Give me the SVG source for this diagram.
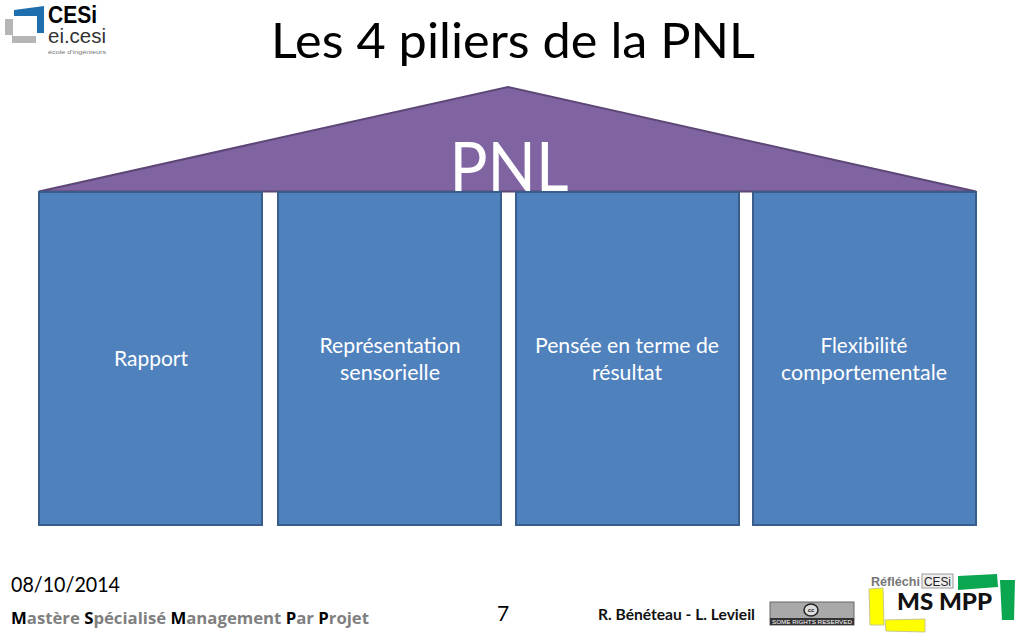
<svg xmlns="http://www.w3.org/2000/svg" width="1024" height="640" viewBox="0 0 1024 640">
<style>
text{font-family:Lato,"Open Sans","Liberation Sans",sans-serif}
.p{fill:#4f81bd;stroke:#385d8a;stroke-width:2}
.l{fill:#fff;font-size:21px;text-anchor:middle}
.f{font-family:"Open Sans","Liberation Sans",sans-serif;font-weight:700;font-size:16px;fill:#7f7f7f}
.b{fill:#000}
.s{font-family:"Liberation Sans",sans-serif}
</style>
<rect width="1024" height="640" fill="#fff"/>
<g id="logo-cesi">
<path d="M14 10L44 6V33L37 33V16L14 16Z" fill="#1f6fae"/>
<path d="M5 19H13V36H36V43H12V35H5Z" fill="#b5b5b5"/>
<text class="s" x="48" y="23" font-size="24" font-weight="700" textLength="49" lengthAdjust="spacingAndGlyphs">CESi</text>
<text class="s" x="48" y="43" font-size="21" fill="#333" textLength="58" lengthAdjust="spacingAndGlyphs">ei.cesi</text>
<text class="s" x="48" y="54" font-size="6" fill="#777" textLength="58" lengthAdjust="spacingAndGlyphs">école d'ingénieurs</text>
</g>
<text id="title" x="513" y="58" font-size="48" text-anchor="middle" fill="#000" textLength="484" lengthAdjust="spacingAndGlyphs">Les 4 piliers de la PNL</text>
<g id="roof">
<path d="M39 191.500L508 87L976 191.500Z" fill="#8064a2" stroke="#5c4776" stroke-width="2"/>
<text x="509" y="191" font-size="68" text-anchor="middle" fill="#fff" textLength="119" lengthAdjust="spacingAndGlyphs">PNL</text>
</g>
<g id="pilier-1"><rect class="p" x="39" y="192" width="223" height="333"/><text class="l" x="151" y="366">Rapport</text></g>
<g id="pilier-2"><rect class="p" x="278" y="192" width="223" height="333"/><text class="l" x="390" y="353" textLength="141" lengthAdjust="spacingAndGlyphs">Représentation</text><text class="l" x="390" y="380" textLength="100" lengthAdjust="spacingAndGlyphs">sensorielle</text></g>
<g id="pilier-3"><rect class="p" x="516" y="192" width="223" height="333"/><text class="l" x="627" y="353" textLength="184" lengthAdjust="spacingAndGlyphs">Pensée en terme de</text><text class="l" x="627" y="380" textLength="70" lengthAdjust="spacingAndGlyphs">résultat</text></g>
<g id="pilier-4"><rect class="p" x="753" y="192" width="223" height="333"/><text class="l" x="864" y="353" textLength="87" lengthAdjust="spacingAndGlyphs">Flexibilité</text><text class="l" x="864" y="380" textLength="166" lengthAdjust="spacingAndGlyphs">comportementale</text></g>
<text id="date" x="11" y="592" font-size="21" fill="#000" textLength="109" lengthAdjust="spacingAndGlyphs">08/10/2014</text>
<text id="master" x="11" y="624" class="f" textLength="358" lengthAdjust="spacingAndGlyphs"><tspan class="b">M</tspan>astère <tspan class="b">S</tspan>pécialisé <tspan class="b">M</tspan>anagement <tspan class="b">P</tspan>ar <tspan class="b">P</tspan>rojet</text>
<text id="page" x="503" y="621" font-size="21" text-anchor="middle" fill="#000">7</text>
<text id="auteurs" x="598" y="620" font-size="15" font-weight="700" fill="#111" textLength="157" lengthAdjust="spacingAndGlyphs">R. Bénéteau - L. Levieil</text>
<g id="cc">
<rect x="770" y="602" width="84" height="23" fill="#a9a9a9" stroke="#666"/>
<rect x="770" y="618" width="84" height="7" fill="#333"/>
<ellipse cx="811" cy="610" rx="7" ry="6" fill="#ddd" stroke="#222" stroke-width="1.5"/>
<text class="s" x="811" y="612" font-size="6" font-weight="700" text-anchor="middle" fill="#222">cc</text>
<text class="s" x="812" y="624" font-size="6" text-anchor="middle" fill="#fff" textLength="80" lengthAdjust="spacingAndGlyphs">SOME RIGHTS RESERVED</text>
</g>
<g id="logo-msmpp">
<path d="M958 576L997 574L998 587L958 590Z" fill="#0aa650"/>
<path d="M1000 580L1015 580L1014 620L1002 620Z" fill="#0aa650"/>
<path d="M869 589L883 588L884 625L870 625Z" fill="#ffff00" stroke="#c8c88c"/>
<path d="M885 620L925 619L925 632L886 631Z" fill="#ffff00" stroke="#c8c88c"/>
<text class="s" x="871" y="586" font-size="13" font-weight="700" fill="#777" textLength="49" lengthAdjust="spacingAndGlyphs">Réfléchi</text>
<rect x="922" y="574" width="31" height="14" fill="#eee" stroke="#999"/>
<text class="s" x="937.500" y="586" font-size="13" text-anchor="middle" fill="#222" textLength="27" lengthAdjust="spacingAndGlyphs">CESi</text>
<text x="897" y="610" font-size="22" font-weight="900" fill="#111" textLength="95" lengthAdjust="spacingAndGlyphs">MS MPP</text>
</g>
</svg>
